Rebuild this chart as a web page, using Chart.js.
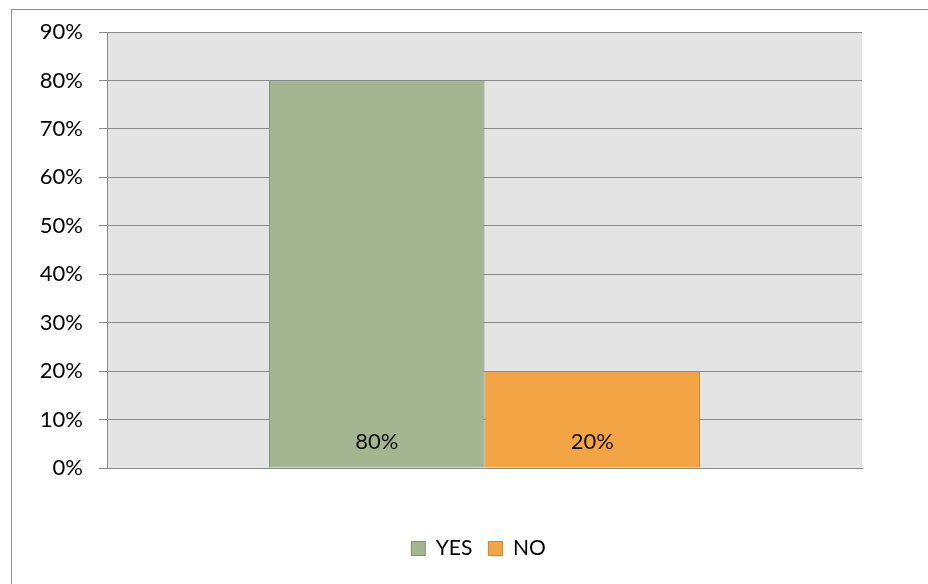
<!DOCTYPE html>
<html>
<head>
<meta charset="utf-8">
<script src="https://cdn.jsdelivr.net/npm/chart.js@4"></script>
<style>
  html, body { margin: 0; padding: 0; background: #fff; }
  #wrap { position: relative; width: 928px; height: 584px; overflow: hidden; }
  #frame { position: absolute; left: 11px; top: 9px; width: 1000px; height: 1000px;
           border-left: 1px solid #8f8f8f; border-top: 1px solid #8f8f8f; }
  canvas { position: absolute; left: 0; top: 0; }
</style>
</head>
<body>
<div id="wrap">
  <div id="frame"></div>
  <canvas id="chart" width="928" height="584"></canvas>
</div>
<script>
const categories = [''];
const seriesNames = ['YES', 'NO'];
const yesValues = [80];
const noValues  = [20];
const tickValues = [0, 10, 20, 30, 40, 50, 60, 70, 80, 90];

const plotBg = {
  id: 'plotBg',
  beforeDraw(chart) {
    const { ctx, chartArea: a } = chart;
    ctx.save();
    ctx.fillStyle = '#e4e4e4';
    ctx.fillRect(a.left, a.top, a.right - a.left, a.bottom - a.top);
    ctx.restore();
  }
};

// value labels sit inside the bar, near its base
const barLabels = {
  id: 'barLabels',
  afterDatasetsDraw(chart) {
    const { ctx, chartArea } = chart;
    ctx.save();
    ctx.font = '22px Lato';
    ctx.fillStyle = '#111';
    ctx.textAlign = 'center';
    ctx.textBaseline = 'middle';
    chart.data.datasets.forEach((ds, i) => {
      chart.getDatasetMeta(i).data.forEach((bar, j) => {
        ctx.fillText(ds.data[j] + '%', bar.x, chartArea.bottom - 26);
      });
    });
    ctx.restore();
  }
};

// the legend is centred under the plot area, not the whole canvas
const legendShift = {
  id: 'legendShift',
  afterLayout(chart) {
    const lg = chart.legend;
    if (!lg) return;
    const dx = (chart.chartArea.left + chart.chartArea.right) / 2 - 6 - (lg.left + lg.right) / 2;
    lg.left += dx;
    lg.right += dx;
  }
};

new Chart(document.getElementById('chart'), {
  type: 'bar',
  data: {
    labels: categories,
    datasets: [
      {
        label: seriesNames[0],
        data: yesValues,
        backgroundColor: '#a4b592',
        borderColor: '#7f9170',
        borderWidth: 1,
        categoryPercentage: 0.571,
        barPercentage: 1
      },
      {
        label: seriesNames[1],
        data: noValues,
        backgroundColor: '#f3a545',
        borderColor: '#c78436',
        borderWidth: 1,
        categoryPercentage: 0.571,
        barPercentage: 1
      }
    ]
  },
  options: {
    responsive: false,
    animation: false,
    layout: { padding: { left: 0, right: 66, top: 32, bottom: 15 } },
    scales: {
      x: {
        ticks: { display: false },
        grid: { display: false },
        border: { color: '#8a8a8a' },
        afterFit: s => { s.height = 54; }
      },
      y: {
        min: 0,
        max: 90,
        afterBuildTicks: s => { s.ticks = tickValues.map(v => ({ value: v })); },
        ticks: {
          color: '#000',
          font: { family: 'Lato', size: 22 },
          padding: 16,
          callback: v => v + '%'
        },
        grid: { color: '#8a8a8a', tickLength: 8 },
        border: { color: '#8a8a8a' },
        afterFit: s => { s.width = 107; }
      }
    },
    plugins: {
      legend: {
        position: 'bottom',
        labels: {
          color: '#000',
          font: { family: 'Lato', size: 21 },
          boxWidth: 14,
          boxHeight: 14,
          padding: 16
        }
      },
      tooltip: { enabled: false }
    }
  },
  plugins: [plotBg, barLabels, legendShift]
});
</script>
</body>
</html>
